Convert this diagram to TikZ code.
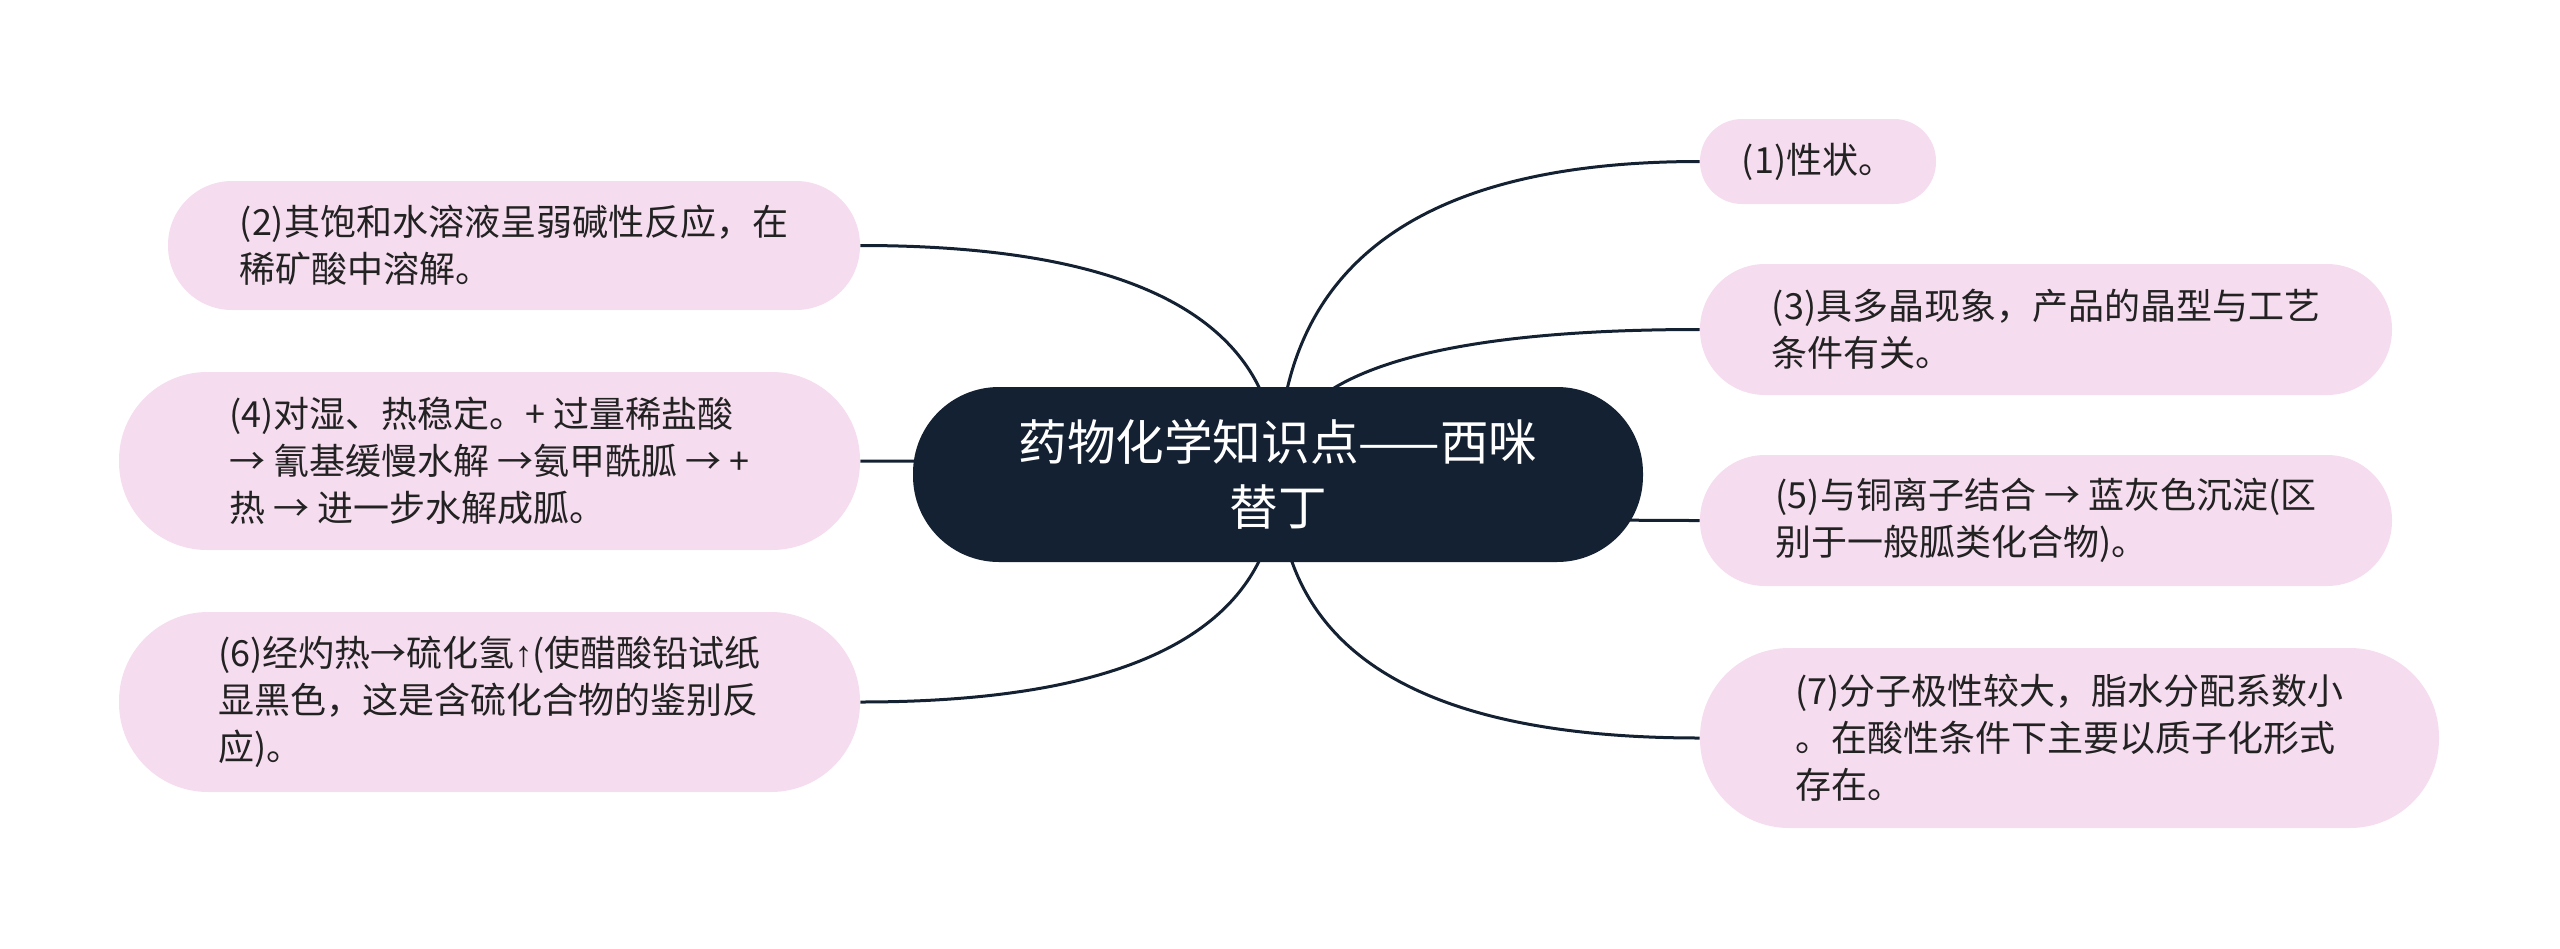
\documentclass[tikz,border=0pt]{standalone}
\usepackage{fontspec}
\setmainfont{Noto Sans CJK SC}
\newfontfamily\arrowfont{Liberation Sans}
\usetikzlibrary{calc}
\pgfdeclarelayer{bg}
\pgfsetlayers{bg,main}
\definecolor{navy}{HTML}{142133}
\definecolor{pinkfill}{HTML}{F6DCEF}
\definecolor{txt}{HTML}{222222}
\begin{document}
\begin{tikzpicture}[x=0.5pt,y=-0.5pt,
  leaf/.style n args={3}{fill=pinkfill, draw=none, align=left, text=txt,
    font=\fontsize{18pt}{23.5pt}\selectfont, inner sep=0pt,
    minimum width=#1pt, minimum height=#2pt, rounded corners=#3pt},
  rootnode/.style={fill=navy, draw=none, align=center, text=white,
    font=\fontsize{24.3pt}{32.5pt}\selectfont, inner sep=0pt,
    minimum width=365pt, minimum height=87.5pt, rounded corners=43pt},
  edge/.style={draw=navy, line width=1.5pt}]
\useasboundingbox (0,0) rectangle (2560,948);
\node[rootnode] (root) at (1278,474.5) {药物化学知识点——西咪\\替丁};
\node[leaf={118}{42.5}{21}] (c1) at (1818,161.5) {(1)性状。};
\node[leaf={346}{65.5}{32.5}] (c3) at (2046,329.5) {(3)具多晶现象，产品的晶型与工艺\\条件有关。};
\node[leaf={346}{65.5}{32.5}] (c5) at (2046,520.5) {(5)与铜离子结合 → 蓝灰色沉淀(区\\别于一般胍类化合物)。};
\node[leaf={369.5}{90}{44.5}] (c7) at (2069.5,738) {(7)分子极性较大，脂水分配系数小\\。在酸性条件下主要以质子化形式\\存在。};
\node[leaf={346}{64.5}{32}] (c2) at (514,245.5) {(2)其饱和水溶液呈弱碱性反应，在\\稀矿酸中溶解。};
\node[leaf={370.5}{89}{44}] (c4) at (489.5,461) {(4)对湿、热稳定。+ 过量稀盐酸\\→ 氰基缓慢水解 →氨甲酰胍 → +\\热 → 进一步水解成胍。};
\node[leaf={370.5}{90}{44.5}] (c6) at (489.5,702) {(6)经灼热→硫化氢{\arrowfont ↑}(使醋酸铅试纸\\显黑色，这是含硫化合物的鉴别反\\应)。};
\begin{pgfonlayer}{bg}
\foreach \n/\a in {c1/west,c3/west,c5/west,c7/west,c2/east,c4/east,c6/east}{
  \draw[edge] (root.center) .. controls ($(root.center)!0.667!(root.center |- \n.\a)$)
     and ($(\n.\a)!0.667!(root.center |- \n.\a)$) .. (\n.\a);
}
\end{pgfonlayer}
\end{tikzpicture}
\end{document}
